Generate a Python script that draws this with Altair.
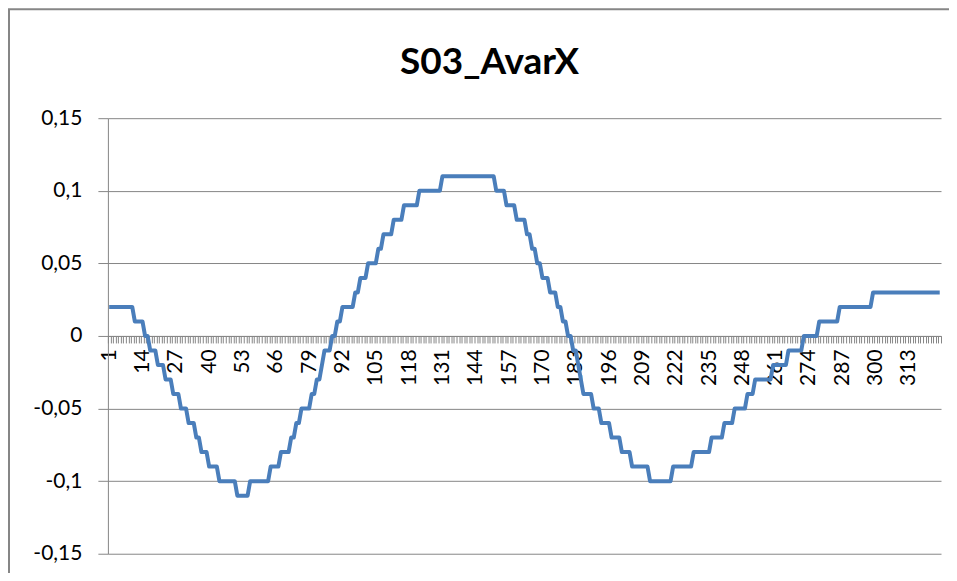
import altair as alt
import pandas as pd

# Step levels (value of each flat run) and how many consecutive samples each run lasts
step_levels = [
    0.02, 0.01, 0.00, -0.01, -0.02, -0.03, -0.04, -0.05, -0.06, -0.07, -0.08, -0.09,
    -0.10, -0.11, -0.10, -0.09, -0.08, -0.07, -0.06, -0.05, -0.04, -0.03, -0.02, -0.01,
    0.00, 0.01, 0.02, 0.03, 0.04, 0.05, 0.06, 0.07, 0.08, 0.09, 0.10, 0.11,
    0.10, 0.09, 0.08, 0.07, 0.06, 0.05, 0.04, 0.03, 0.02, 0.01, 0.00, -0.01,
    -0.02, -0.03, -0.04, -0.05, -0.06, -0.07, -0.08, -0.09, -0.10, -0.09, -0.08, -0.07,
    -0.06, -0.05, -0.04, -0.03, -0.02, -0.01, 0.00, 0.01, 0.02, 0.03,
]
step_lengths = [
    10, 4, 2, 3, 3, 3, 3, 3, 3, 2, 3, 4,
    7, 5, 8, 4, 4, 2, 2, 4, 2, 2, 1, 3,
    2, 2, 5, 2, 3, 4, 2, 4, 4, 6, 9, 21,
    4, 4, 4, 2, 2, 2, 3, 3, 2, 2, 2, 2,
    1, 1, 4, 3, 4, 4, 4, 7, 9, 8, 7, 5,
    4, 5, 3, 7, 6, 6, 6, 8, 13, 27,
]
y_ticks = [-0.15, -0.1, -0.05, 0, 0.05, 0.1, 0.15]
label_every = 13
title_text = "S03_AvarX"

values = []
for lvl, n in zip(step_levels, step_lengths):
    values += [lvl] * n
df = pd.DataFrame({"i": list(range(1, len(values) + 1)), "v": values})

W, H = 834, 436
GRAY = "#868686"
FONT = "Lato"

line = alt.Chart(df).mark_line(color="#4A7EBB", strokeWidth=4, strokeJoin="round").encode(
    x=alt.X(
        "i:O",
        scale=alt.Scale(type="band", paddingInner=0, paddingOuter=0),
        bandPosition=0.5,
        axis=alt.Axis(
            title=None,
            orient="bottom",
            offset=-H / 2,
            labelAngle=-90,
            labelExpr=f"(datum.value - 1) % {label_every} == 0 ? datum.label : ''",
            labelOverlap=False,
            tickBand="extent",
            tickSize=7,
            tickColor=GRAY,
            domainColor=GRAY,
            labelFont=FONT,
            labelFontSize=21,
            labelColor="#000000",
            labelPadding=6,
            grid=False,
        ),
    ),
    y=alt.Y(
        "v:Q",
        scale=alt.Scale(domain=[-0.15, 0.15], nice=False, zero=False),
        axis=alt.Axis(
            title=None,
            values=y_ticks,
            labelExpr="replace(replace(format(datum.value, '.2~f'), '.', ','), '\u2212', '-')",
            tickSize=10,
            tickColor=GRAY,
            domainColor=GRAY,
            gridColor=GRAY,
            grid=True,
            labelPadding=16,
            labelFont=FONT,
            labelFontSize=21,
            labelColor="#000000",
        ),
    ),
)

border = alt.Chart(alt.Data(values=[{}])).mark_rect(
    filled=False, stroke=GRAY, strokeWidth=2
).encode(
    x=alt.value(-99),
    y=alt.value(-109),
    x2=alt.value(W + 200),
    y2=alt.value(H + 200),
)

chart = alt.layer(border, line).properties(
    width=W,
    height=H,
    title=alt.TitleParams(
        title_text, font=FONT, fontSize=37, fontWeight="bold", color="#000000",
        anchor="middle", dx=-35, offset=0, baseline="alphabetic", dy=103,
    ),
    autosize=alt.AutoSizeParams(type="none"),
    padding={"left": 100, "top": 110, "right": 8, "bottom": 19},
).configure_view(strokeWidth=0)

chart.save("out.html", embed_options={"renderer": "svg", "actions": False})
